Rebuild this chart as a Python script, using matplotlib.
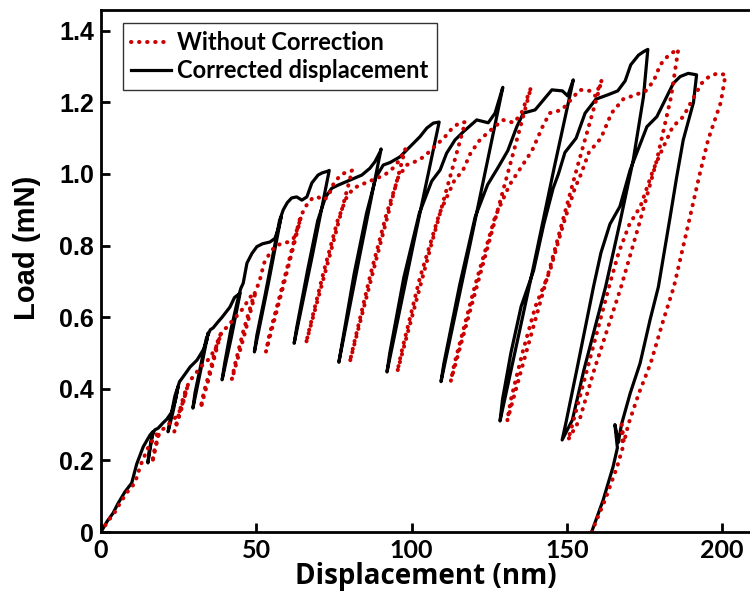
import matplotlib
matplotlib.use("Agg")
import matplotlib.pyplot as plt

# load (mN) along the indentation path, shared by both curves
load_mN = [
    0, 0.03, 0.053, 0.08, 0.112, 0.137, 0.19, 0.238, 0.271, 0.28,
    0.193, 0.225, 0.27, 0.285, 0.29, 0.305, 0.315, 0.335, 0.37, 0.405,
    0.34, 0.28, 0.31, 0.38, 0.42, 0.433, 0.461, 0.48, 0.494, 0.51, 0.536, 0.556,
    0.46, 0.346, 0.39, 0.46, 0.54, 0.565, 0.57, 0.585, 0.6, 0.628, 0.655, 0.667,
    0.545, 0.425, 0.47, 0.56, 0.64, 0.68, 0.695, 0.751, 0.778, 0.797, 0.805, 0.81, 0.82, 0.85, 0.88,
    0.69, 0.503, 0.55, 0.66, 0.78, 0.87, 0.9, 0.92, 0.933, 0.936, 0.927, 0.936, 0.975, 0.997, 1.003, 1.008, 1.01,
    0.77, 0.527, 0.57, 0.73, 0.87, 0.935, 0.96, 0.969, 0.983, 0.997, 1.016, 1.034, 1.062, 1.07,
    0.78, 0.474, 0.52, 0.72, 0.89, 0.99, 1.025, 1.032, 1.048, 1.076, 1.104, 1.128, 1.142, 1.145,
    0.8, 0.447, 0.5, 0.71, 0.89, 0.98, 1.011, 1.058, 1.095, 1.118, 1.151, 1.143, 1.17, 1.242,
    0.83, 0.42, 0.47, 0.69, 0.88, 0.97, 1.02, 1.065, 1.132, 1.17, 1.179, 1.207, 1.235, 1.232, 1.218, 1.263,
    1.02, 0.73, 0.51, 0.31, 0.37, 0.5, 0.63, 0.73, 0.86, 0.96, 1.0, 1.06, 1.1, 1.17, 1.209, 1.221,
    1.232, 1.26, 1.305, 1.332, 1.342, 1.348,
    1.216, 1.039, 0.86, 0.685, 0.452, 0.313, 0.257, 0.3, 0.452, 0.685, 0.78, 0.86, 0.909, 1.011,
    1.058, 1.132, 1.16, 1.197, 1.253, 1.272, 1.281, 1.277,
    1.2, 1.095, 0.992, 0.881, 0.685, 0.592, 0.471, 0.387, 0.3, 0.25, 0.30, 0.235, 0.182, 0.089, 0.0,
]

# displacement (nm) after correction
disp_corrected = [
    0, 2.0, 3.9, 5.5, 7.7, 9.9, 11.5, 13.6, 15.8, 16.7,
    15.1, 15.5, 16.5, 17.3, 18.4, 20.0, 21.2, 22.8, 24.0, 24.8,
    23.3, 21.6, 22.2, 23.8, 25.3, 26.4, 28.7, 30.9, 31.9, 33.0, 34.1, 34.5,
    32.3, 29.6, 30.3, 32.0, 33.9, 35.2, 36.1, 37.5, 39.0, 41.5, 43.0, 44.8,
    42.0, 39.0, 39.8, 41.7, 43.8, 45.0, 45.8, 47.0, 48.6, 50.2, 52.0, 54.4, 56.0, 57.2, 58.0,
    53.8, 49.4, 50.2, 52.8, 55.5, 57.5, 58.7, 60.0, 61.4, 63.0, 64.7, 66.3, 67.9, 69.9, 71.2, 73.1, 73.5,
    68.0, 62.2, 63.0, 66.5, 69.8, 72.3, 74.3, 76.4, 80.2, 84.0, 86.6, 88.2, 89.9, 90.2,
    83.5, 76.6, 77.5, 81.5, 85.5, 88.5, 90.9, 93.1, 96.3, 99.5, 102.7, 104.9, 107.0, 108.9,
    100.5, 92.1, 93.0, 97.5, 102.5, 106.5, 109.2, 111.3, 114.0, 116.7, 121.0, 124.7, 126.9, 129.4,
    119.5, 109.5, 110.4, 115.5, 120.5, 124.5, 128.0, 131.0, 133.9, 136.0, 139.8, 142.5, 145.2, 148.6, 150.3, 152.1,
    146.0, 139.0, 133.5, 128.5, 129.3, 132.0, 135.3, 139.3, 142.6, 145.6, 147.3, 149.4, 153.0, 155.9, 159.4, 163.2,
    166.4, 168.8, 170.6, 173.1, 174.8, 176.1,
    174.7, 171.4, 167.0, 162.5, 155.5, 151.8, 148.5, 149.6, 153.2, 158.6, 161.0, 163.9, 167.1, 170.4,
    172.5, 175.8, 179.0, 181.1, 184.3, 186.5, 189.1, 191.8,
    190.8, 187.5, 185.4, 183.3, 179.5, 176.8, 173.6, 170.4, 167.6, 166.6, 165.5, 166.3, 164.9, 161.7, 158.0,
]

# displacement (nm) without correction
disp_raw = [
    0, 2.2, 4.3, 6.1, 8.5, 10.9, 12.9, 15.3, 17.8, 18.7,
    16.5, 17.1, 18.5, 19.4, 20.5, 22.2, 23.5, 25.2, 26.7, 27.8,
    25.8, 23.6, 24.5, 26.6, 28.4, 29.6, 32.1, 34.4, 35.5, 36.7, 38.0, 38.6,
    35.7, 32.1, 33.1, 35.4, 37.8, 39.3, 40.3, 41.8, 43.4, 46.1, 47.8, 49.7,
    46.0, 42.1, 43.2, 45.8, 48.5, 50.0, 50.9, 52.5, 54.3, 56.0, 57.9, 60.3, 62.0, 63.4, 64.4,
    58.8, 53.1, 54.2, 57.6, 61.2, 63.9, 65.3, 66.7, 68.2, 69.8, 71.5, 73.1, 75.0, 77.2, 78.5, 80.5, 80.9,
    73.6, 66.0, 67.2, 71.8, 76.2, 79.1, 81.3, 83.5, 87.4, 91.3, 94.0, 95.7, 97.7, 98.0,
    89.2, 80.1, 81.3, 86.8, 92.0, 95.7, 98.4, 100.6, 104.0, 107.4, 110.8, 113.1, 115.3, 117.3,
    106.3, 95.4, 96.7, 102.7, 109.0, 113.7, 116.6, 119.0, 122.0, 124.9, 129.4, 133.0, 135.4, 138.5,
    125.6, 112.6, 113.8, 120.5, 126.9, 131.6, 135.4, 138.8, 142.2, 144.5, 148.4, 151.3, 154.2, 157.6, 159.2, 161.3,
    153.4, 144.3, 137.2, 130.8, 132.0, 135.7, 139.9, 144.6, 148.9, 152.6, 154.6, 157.1, 161.0, 164.4, 168.2, 172.1,
    175.4, 178.0, 180.1, 182.8, 184.6, 185.9,
    183.6, 179.0, 173.3, 167.5, 158.8, 154.1, 150.4, 151.8, 156.5, 163.6, 166.7, 170.2, 173.7, 177.8,
    180.2, 184.1, 187.5, 189.8, 193.4, 195.8, 198.5, 201.1,
    199.6, 195.5, 192.6, 189.7, 184.5, 181.1, 177.0, 173.2, 169.8, 168.4, 167.7, 168.0, 166.2, 162.3, 158.0,
]

x_ticks = [0, 50, 100, 150, 200]
y_ticks = [0, 0.2, 0.4, 0.6, 0.8, 1.0, 1.2, 1.4]
y_tick_labels = ['0', '0.2', '0.4', '0.6', '0.8', '1.0', '1.2', '1.4']

fig = plt.figure(figsize=(7.5, 5.99), dpi=100)
ax = fig.add_axes([101/750, 67/599, 649/750, 522/599])

black, = ax.plot(disp_corrected, load_mN, color='black', lw=2.3,
                 solid_joinstyle='round', label='Corrected displacement')
red, = ax.plot(disp_raw, load_mN, color='#cc0000', lw=2.9,
               linestyle=(0, (0.1, 1.9)), dash_capstyle='round',
               label='Without Correction')

ax.set_xlim(0, 209)
ax.set_ylim(0, 1.458)
ax.set_xticks(x_ticks)
ax.set_xticklabels([str(t) for t in x_ticks], fontfamily='Lato',
                   fontweight='bold', fontsize=18)
ax.set_yticks(y_ticks)
ax.set_yticklabels(y_tick_labels, fontfamily='Liberation Sans',
                   fontweight='bold', fontsize=18)
ax.tick_params(direction='in', length=6.5, width=2, pad=5)

for side in ['left', 'bottom', 'top']:
    ax.spines[side].set_linewidth(2)
ax.spines['right'].set_visible(False)

ax.set_xlabel('Displacement (nm)', fontfamily='Open Sans', fontweight='bold',
              fontsize=20, labelpad=0)
ax.set_ylabel('Load (mN)', fontfamily='Liberation Sans', fontweight='bold',
              fontsize=21)
ax.yaxis.set_label_coords(-0.092, 0.544)

leg = ax.legend(handles=[red, black], loc='upper left',
                bbox_to_anchor=(0.034, 0.975),
                prop={'family': 'Lato', 'weight': 'bold', 'size': 17},
                fancybox=False, framealpha=1, edgecolor='#333333',
                handlelength=1.7, handletextpad=0.25, labelspacing=0.2,
                borderpad=0.35, borderaxespad=0)
leg.get_frame().set_linewidth(1)

fig.savefig('out.png', dpi=100)
